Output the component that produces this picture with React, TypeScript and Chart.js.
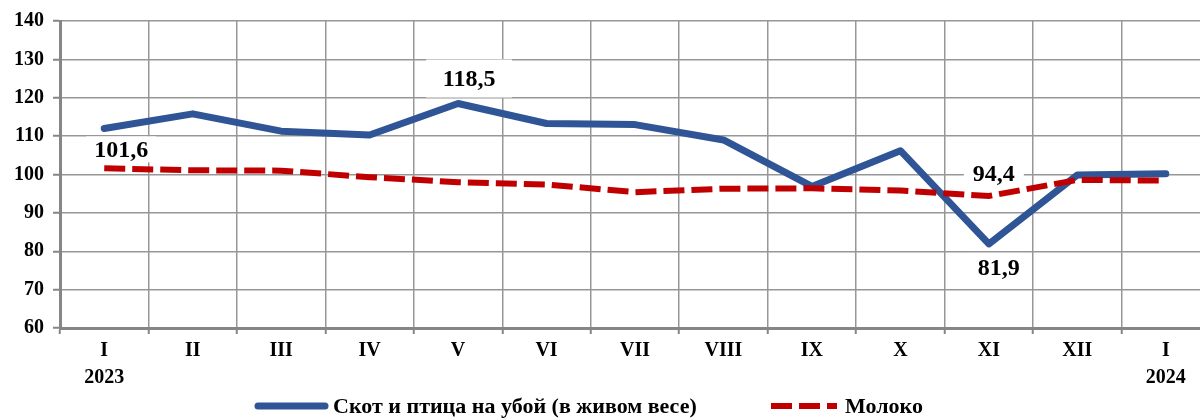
import React, { useEffect, useRef } from "react";
import { Chart, registerables } from "chart.js";

Chart.register(...registerables);

const categories: (string | string[])[] = [
  ["I", "2023"], "II", "III", "IV", "V", "VI", "VII", "VIII", "IX", "X", "XI", "XII", ["I", "2024"],
];
const livestock = [112.0, 115.8, 111.3, 110.3, 118.5, 113.3, 113.0, 109.0, 96.9, 106.2, 81.9, 99.9, 100.2];
const milk = [101.6, 101.1, 101.0, 99.3, 98.0, 97.4, 95.4, 96.3, 96.4, 95.8, 94.4, 98.6, 98.4];
const seriesNames = ["Скот и птица на убой (в живом весе)", "Молоко"];
const yMin = 60;
const yMax = 140;
const yStep = 10;

// which values are labelled: [datasetIndex, pointIndex]
const labelledPoints: [number, number][] = [
  [1, 0],
  [0, 4],
  [1, 10],
  [0, 10],
];
// label placement (style only): offsets from the point, white box size
const labelStyle = [
  { dx: 17, dy: -19, bw: 70, bh: 26 },
  { dx: 11, dy: -25, bw: 86, bh: 38 },
  { dx: 5, dy: -22, bw: 60, bh: 26 },
  { dx: 10, dy: 24, bw: 58, bh: 30 },
];

const BLUE = "#2F5597";
const RED = "#C00000";
const GRID = "#979797";
const AXIS = "#868686";
const FONT = "'Liberation Serif', 'Times New Roman', serif";

const fmt = (v: number) => v.toFixed(1).replace(".", ",");

const labelPlugin = {
  id: "valueLabels",
  afterDatasetsDraw(chart: any) {
    const ctx = chart.ctx;
    ctx.save();
    labelledPoints.forEach(([ds, idx], i) => {
      const meta = chart.getDatasetMeta(ds);
      const pt = meta.data[idx];
      const st = labelStyle[i];
      const cx = pt.x + st.dx;
      const cy = pt.y + st.dy;
      ctx.fillStyle = "#ffffff";
      ctx.fillRect(cx - st.bw / 2, cy - st.bh / 2, st.bw, st.bh);
      ctx.fillStyle = "#000000";
      ctx.font = `bold 24px ${FONT}`;
      ctx.textAlign = "center";
      ctx.textBaseline = "middle";
      const val = chart.data.datasets[ds].data[idx] as number;
      ctx.fillText(fmt(val), cx, cy + 1);
    });
    ctx.restore();
  },
};

const legendPlugin = {
  id: "customLegend",
  afterDraw(chart: any) {
    const ctx = chart.ctx;
    const y = 406;
    ctx.save();
    ctx.font = `bold 22px ${FONT}`;
    ctx.textBaseline = "middle";
    ctx.textAlign = "left";
    // item 1
    let x = 258;
    ctx.strokeStyle = BLUE;
    ctx.lineWidth = 7;
    ctx.lineCap = "round";
    ctx.beginPath();
    ctx.moveTo(x, y);
    ctx.lineTo(x + 67, y);
    ctx.stroke();
    ctx.fillStyle = "#000";
    ctx.fillText(seriesNames[0], 333, y + 1);
    // item 2
    x = 771;
    ctx.strokeStyle = RED;
    ctx.lineWidth = 6;
    ctx.lineCap = "butt";
    ctx.setLineDash([21, 7]);
    ctx.beginPath();
    ctx.moveTo(x, y);
    ctx.lineTo(x + 66, y);
    ctx.stroke();
    ctx.setLineDash([]);
    ctx.fillText(seriesNames[1], 845, y + 1);
    ctx.restore();
  },
};

export default function App() {
  const canvasRef = useRef<HTMLCanvasElement | null>(null);

  useEffect(() => {
    if (!canvasRef.current) return;
    const chart = new Chart(canvasRef.current, {
      type: "line",
      data: {
        labels: categories as any,
        datasets: [
          {
            label: seriesNames[0],
            data: livestock,
            borderColor: BLUE,
            backgroundColor: BLUE,
            borderWidth: 7,
            pointRadius: 0,
            tension: 0,
            borderCapStyle: "round",
            borderJoinStyle: "round",
            order: 1,
          },
          {
            label: seriesNames[1],
            data: milk,
            borderColor: RED,
            backgroundColor: RED,
            borderWidth: 6,
            borderDash: [21, 7],
            pointRadius: 0,
            tension: 0,
            borderCapStyle: "butt",
            order: 0,
          },
        ],
      },
      options: {
        responsive: false,
        animation: false,
        layout: { padding: { left: 0, right: 10, top: 20, bottom: 0 } },
        plugins: {
          legend: { display: false },
          tooltip: { enabled: false },
        },
        scales: {
          x: {
            offset: true,
            grid: {
              color: GRID,
              lineWidth: 1.5,
              offset: true,
              drawTicks: true,
              tickLength: 6,
              tickColor: AXIS,
              tickWidth: 2,
            },
            border: { display: true, color: AXIS, width: 3 },
            ticks: {
              color: "#000",
              font: { family: FONT, size: 20, weight: "bold", lineHeight: 1.35 },
              padding: 3,
              maxRotation: 0,
              autoSkip: false,
            },
            afterFit(scale: any) {
              scale.height = 90;
            },
          },
          y: {
            min: yMin,
            max: yMax,
            ticks: {
              stepSize: yStep,
              color: "#000",
              font: { family: FONT, size: 20, weight: "bold" },
              padding: 9,
            },
            grid: {
              color: GRID,
              lineWidth: 1.5,
              drawTicks: true,
              tickLength: 7,
              tickColor: AXIS,
              tickWidth: 2,
            },
            border: { display: true, color: AXIS, width: 3 },
            afterFit(scale: any) {
              scale.width = 60;
            },
          },
        },
      },
      plugins: [labelPlugin, legendPlugin],
    });
    return () => chart.destroy();
  }, []);

  return (
    <div
      style={{
        position: "fixed",
        left: 0,
        top: 0,
        width: 1200,
        height: 418,
        overflow: "hidden",
        background: "#fff",
      }}
    >
      <canvas ref={canvasRef} width={1220} height={418} style={{ display: "block" }} />
    </div>
  );
}
